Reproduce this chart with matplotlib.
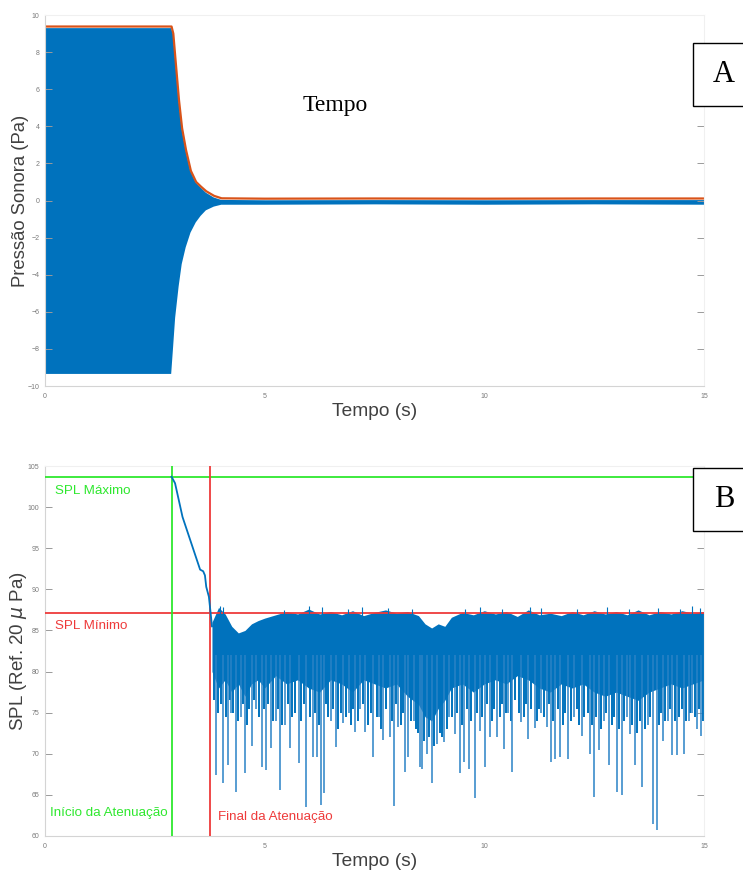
import matplotlib.pyplot as plt
from matplotlib.patches import Rectangle

# --- Panel A: sound pressure envelope (Pa) ---
env_t = [0.0, 2.86, 2.90, 2.95, 3.03, 3.10, 3.19, 3.30, 3.42, 3.53, 3.65, 3.83, 4.00, 5.0, 7.5, 10.0, 12.5, 15.0]
env_hi = [9.32, 9.32, 9.0, 7.6, 5.4, 3.9, 2.72, 1.6, 1.0, 0.73, 0.45, 0.19, 0.06, 0.04, 0.05, 0.04, 0.05, 0.05]
env_lo = [-9.32, -9.32, -8.0, -6.3, -4.6, -3.4, -2.5, -1.7, -1.15, -0.8, -0.5, -0.3, -0.2, -0.2, -0.18, -0.2, -0.18, -0.2]
peak_t = [0.0, 2.88, 2.92, 2.97, 3.05, 3.12, 3.21, 3.32, 3.44, 3.55, 3.67, 3.85, 4.02, 5.0, 7.5, 10.0, 12.5, 15.0]
peak_v = [9.38, 9.38, 9.0, 7.6, 5.4, 3.9, 2.72, 1.6, 1.0, 0.75, 0.5, 0.25, 0.12, 0.1, 0.11, 0.1, 0.11, 0.11]

# --- Panel B: SPL (dB ref. 20 uPa) ---
spl_max = 103.7
spl_min = 87.15
t_start = 2.88
t_end = 3.76
decay_t = [2.88, 2.96, 3.13, 3.38, 3.53, 3.60, 3.64, 3.67, 3.73, 3.77, 3.80]
decay_v = [103.7, 102.9, 98.8, 94.8, 92.4, 92.2, 91.7, 90.3, 89.1, 87.1, 85.5]

band_t = [3.80, 3.95, 4.10, 4.25, 4.40, 4.55, 4.70, 4.85, 5.00, 5.25, 5.50, 5.75, 6.00, 6.25, 6.50,
          6.75, 7.00, 7.25, 7.50, 7.75, 8.00, 8.25, 8.50, 8.65, 8.80, 8.95, 9.10, 9.25, 9.50, 9.75,
          10.0, 10.25, 10.5, 10.75, 11.0, 11.25, 11.5, 11.75, 12.0, 12.25, 12.5, 12.75, 13.0, 13.25,
          13.5, 13.75, 14.0, 14.25, 14.5, 14.75, 15.0]
band_hi = [86.0, 87.8, 87.0, 85.5, 84.7, 85.0, 85.8, 86.2, 86.5, 86.9, 87.3, 87.0, 87.6, 87.0, 87.3,
           86.9, 87.4, 86.8, 87.2, 87.5, 87.1, 87.3, 86.8, 85.8, 85.3, 85.8, 85.5, 86.6, 87.2, 86.9,
           87.4, 87.0, 87.3, 86.7, 87.5, 86.9, 87.1, 86.8, 87.3, 86.9, 87.4, 87.0, 87.3, 86.9,
           87.5, 86.9, 87.3, 87.0, 87.4, 87.1, 87.3]
band_lo = [80.0, 78.0, 79.0, 77.5, 78.5, 77.0, 78.5, 79.0, 78.0, 79.5, 78.5, 79.0, 78.0, 77.5, 79.0,
           78.5, 77.5, 79.0, 78.5, 78.0, 78.5, 77.0, 76.0, 74.5, 74.0, 75.5, 76.5, 78.0, 78.5, 77.5,
           78.5, 79.0, 78.5, 79.5, 79.0, 78.0, 77.5, 78.5, 78.0, 78.5, 77.5, 77.0, 77.5, 77.0,
           76.5, 77.5, 78.0, 78.5, 78.0, 78.5, 79.0]

# small peaks poking above the band
peak_spl_t = [3.98, 4.05, 5.45, 6.02, 6.30, 6.90, 7.22, 7.80, 8.35, 9.55, 9.90, 10.40, 11.05,
              11.30, 12.10, 12.80, 13.30, 13.95, 14.45, 14.72, 14.90]
peak_spl_v = [88.0, 87.9, 87.5, 88.0, 87.8, 87.6, 87.9, 87.7, 87.6, 87.6, 87.9, 87.6, 87.8,
              87.7, 87.6, 87.9, 87.6, 87.7, 87.6, 88.0, 87.7]

# downward excursions of the SPL trace: time (s) and lowest level (dB)
spike_t = [3.89, 4.06, 4.17, 4.24, 4.34, 4.45, 4.55, 4.70, 4.80, 4.93, 5.02, 5.14, 5.25, 5.35, 5.47,
           5.58, 5.78, 5.94, 6.10, 6.18, 6.28, 6.35, 6.50, 6.62, 6.78, 6.92, 7.06, 7.18, 7.28, 7.47,
           7.60, 7.70, 7.85, 7.94, 8.04, 8.19, 8.27, 8.40, 8.54, 8.59, 8.69, 8.80, 8.92, 9.08, 9.20,
           9.33, 9.45, 9.54, 9.65, 9.79, 9.90, 10.02, 10.13, 10.28, 10.45, 10.55, 10.64, 10.83, 11.00,
           11.15, 11.30, 11.42, 11.51, 11.61, 11.72, 11.91, 12.05, 12.22, 12.41, 12.50, 12.60, 12.72,
           12.84, 13.01, 13.13, 13.25, 13.32, 13.42, 13.60, 13.72, 13.85, 13.92, 14.07, 14.18, 14.28,
           14.38, 14.55, 14.65, 14.72, 14.85, 14.93]
spike_v = [67.4, 66.5, 68.6, 75.0, 65.4, 74.5, 67.7, 70.9, 75.5, 68.4, 68.0, 70.7, 74.0, 65.6, 73.5,
           70.7, 68.9, 63.5, 69.6, 69.6, 63.8, 65.2, 74.0, 70.8, 73.7, 75.0, 72.7, 75.5, 72.7, 69.6,
           74.5, 71.7, 72.0, 63.6, 73.2, 67.8, 69.6, 74.0, 68.4, 68.2, 70.0, 66.4, 71.2, 71.4, 74.5,
           72.4, 67.6, 69.0, 68.2, 64.6, 72.8, 68.4, 72.0, 72.0, 70.6, 75.0, 67.8, 73.9, 71.8,
           73.1, 75.0, 73.3, 69.0, 69.4, 69.6, 69.4, 74.5, 72.2, 70.0, 64.8, 70.4, 74.0,
           68.6, 65.4, 65.0, 74.5, 72.4, 68.6, 66.0, 73.5, 61.5, 60.7, 71.6, 74.0, 69.8,
           69.8, 70.0, 74.0, 74.9, 73.0, 72.2]

# shorter dips that make the lower edge of the band ragged
dip_t = [3.84, 3.93, 4.01, 4.12, 4.20, 4.29, 4.39, 4.50, 4.60, 4.65, 4.75, 4.88, 4.98, 5.08, 5.19,
         5.30, 5.40, 5.52, 5.63, 5.70, 5.83, 5.89, 6.03, 6.14, 6.23, 6.40, 6.45, 6.56, 6.68, 6.73,
         6.85, 6.97, 7.01, 7.12, 7.23, 7.35, 7.41, 7.55, 7.65, 7.77, 7.90, 8.00, 8.10, 8.15, 8.32,
         8.45, 8.50, 8.63, 8.74, 8.85, 8.98, 9.03, 9.14, 9.26, 9.38, 9.50, 9.60, 9.70, 9.84, 9.95,
         10.07, 10.18, 10.22, 10.35, 10.40, 10.50, 10.60, 10.70, 10.78, 10.90, 10.95, 11.07, 11.20,
         11.25, 11.36, 11.47, 11.56, 11.67, 11.78, 11.84, 11.97, 12.10, 12.16, 12.28, 12.35, 12.46,
         12.55, 12.66, 12.78, 12.90, 12.96, 13.07, 13.19, 13.37, 13.48, 13.55, 13.66, 13.78, 13.98,
         14.03, 14.12, 14.23, 14.33, 14.43, 14.50, 14.60, 14.69, 14.80, 14.89, 14.97]
dip_v = [76.5, 75.0, 76.0, 74.5, 76.5, 75.0, 74.0, 76.0, 73.5, 75.5, 76.5, 74.5, 75.5, 76.0, 74.0,
         75.5, 73.5, 76.0, 74.5, 75.0, 74.0, 76.0, 74.5, 75.0, 73.5, 76.0, 74.5, 75.5, 73.0, 75.0,
         74.5, 73.5, 75.5, 74.0, 76.0, 73.5, 75.0, 74.5, 73.0, 75.5, 74.0, 76.0, 73.5, 75.0, 74.0,
         73.0, 72.5, 71.5, 72.0, 71.0, 72.5, 72.0, 73.0, 74.5, 75.0, 73.5, 75.5, 74.0, 75.0, 74.5,
         76.0, 74.0, 75.5, 74.5, 76.0, 75.0, 74.0, 76.5, 75.0, 74.5, 76.0, 75.5, 74.0,
         75.5, 74.5, 76.0, 74.0, 75.5, 73.5, 75.0, 74.0, 75.5, 73.5, 74.5, 75.0, 73.5,
         74.5, 73.0, 75.0, 73.5, 74.5, 73.0, 74.0, 73.5, 72.5, 74.0, 73.0, 74.5, 73.5,
         75.0, 74.0, 75.5, 74.0, 74.5, 75.5, 74.0, 75.0, 74.5, 75.5, 74.0]

blue = "#0072BD"
spike_blue = "#2a82c6"
orange = "#D95319"
green = "#2EE82E"
red = "#EE3A3A"
label_gray = "#404040"
tick_gray = "#7a7a7a"

plt.rcParams["font.family"] = ["Liberation Sans", "DejaVu Sans"]

fig = plt.figure(figsize=(7.43, 8.73), dpi=100)
ax1 = fig.add_axes([0.0606, 0.5578, 0.8869, 0.4250])
ax2 = fig.add_axes([0.0606, 0.0424, 0.8869, 0.4238])


def style_axes(ax):
    for side in ["left", "bottom"]:
        ax.spines[side].set_color("#d4d4d4")
    for side in ["top", "right"]:
        ax.spines[side].set_color("#f0f0f0")
    for sp in ax.spines.values():
        sp.set_linewidth(0.8)
    ax.tick_params(direction="in", length=5, width=0.7, color="#9a9a9a",
                   labelsize=5, labelcolor=tick_gray, pad=4, right=True)
    ax.tick_params(axis="x", length=0, pad=5)


# Panel A
ax1.fill_between(env_t, env_lo, env_hi, color=blue, linewidth=0)
ax1.plot(peak_t, peak_v, color=orange, lw=1.6)
ax1.set_xlim(0, 15)
ax1.set_ylim(-10, 10)
ax1.set_xticks([0, 5, 10, 15])
ax1.set_yticks(range(-10, 11, 2))
style_axes(ax1)
ax1.set_ylabel("Pressão Sonora (Pa)", fontsize=13.3, color=label_gray)
ax1.yaxis.set_label_coords(-0.024, 0.5)
ax1.set_xlabel("Tempo (s)", fontsize=13.8, color=label_gray)
ax1.xaxis.set_label_coords(0.5, -0.045)
ax1.text(0.440, 0.755, "Tempo", transform=ax1.transAxes, fontsize=17,
         family="Liberation Serif", ha="center", va="center", color="black")

# Panel B
ax2.axhline(spl_max, color=green, lw=1.3, zorder=3)
ax2.axhline(spl_min, color=red, lw=1.3, zorder=3)
ax2.axvline(t_start, color=green, lw=1.3, zorder=3)
ax2.axvline(t_end, color=red, lw=1.3, zorder=3)
ax2.plot(decay_t, decay_v, color=blue, lw=1.3, zorder=4)
ax2.fill_between(band_t, band_lo, band_hi, color=blue, linewidth=0, zorder=2)
ax2.vlines(peak_spl_t, 86, peak_spl_v, color=blue, lw=0.8, zorder=4)
ax2.vlines(dip_t, dip_v, 82, color=blue, lw=1.4, zorder=2)
ax2.vlines(spike_t, spike_v, 82, color=spike_blue, lw=1.1, zorder=2)
ax2.set_xlim(0, 15)
ax2.set_ylim(60, 105)
ax2.set_xticks([0, 5, 10, 15])
ax2.set_yticks(range(60, 106, 5))
style_axes(ax2)
ax2.set_ylabel(r"SPL (Ref. 20 $\mu$ Pa)", fontsize=13.5, color=label_gray)
ax2.yaxis.set_label_coords(-0.024, 0.5)
ax2.set_xlabel("Tempo (s)", fontsize=13.8, color=label_gray)
ax2.xaxis.set_label_coords(0.5, -0.045)

ylab = ax2.get_yaxis_transform()
ax2.text(0.015, 102.0, "SPL Máximo", color=green, fontsize=9.6, transform=ylab, va="center")
ax2.text(0.015, 85.5, "SPL Mínimo", color=red, fontsize=9.6, transform=ylab, va="center")
ax2.text(0.008, 62.8, "Início da Atenuação", color=green, fontsize=9.6, transform=ylab, va="center")
ax2.text(0.262, 62.3, "Final da Atenuação", color=red, fontsize=9.6, transform=ylab, va="center")

# panel tags in boxes on the right edge
for y0, tag in [(1 - 106 / 873, "A"), (1 - 531 / 873, "B")]:
    fig.add_artist(Rectangle((693 / 743, y0), 0.1, 63 / 873, transform=fig.transFigure,
                             facecolor="white", edgecolor="black", lw=1.0))
    fig.text(724 / 743, y0 + 31.5 / 873, tag, fontsize=22, family="Liberation Serif",
             ha="center", va="center")

fig.savefig("out.png", dpi=100)
